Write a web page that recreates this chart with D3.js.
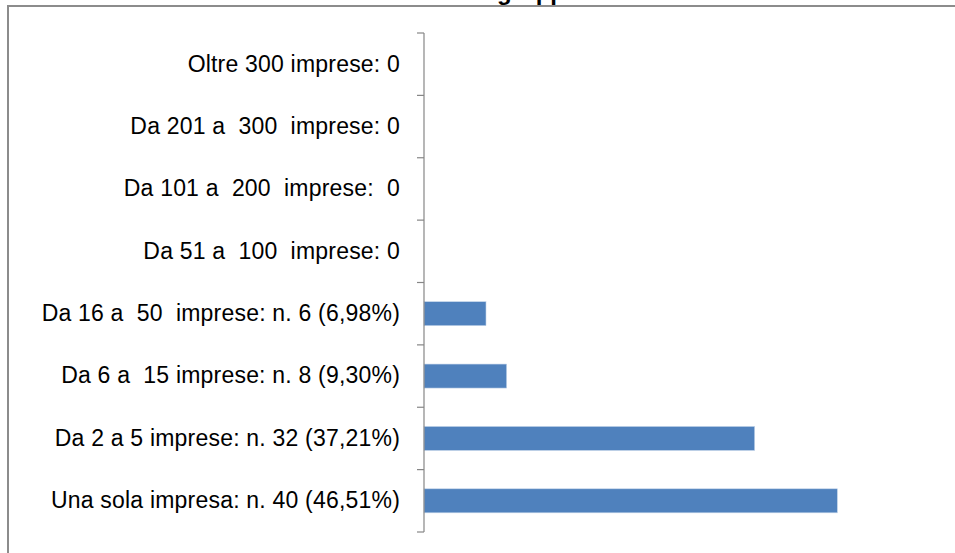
<!DOCTYPE html>
<html>
<head>
<meta charset="utf-8">
<script src="https://cdn.jsdelivr.net/npm/d3@7"></script>
<style>
  body { margin: 0; background: #fff; }
  svg { display: block; }
  .catLabel text { font-family: "Liberation Sans", Arial, sans-serif; font-size: 23px; fill: #000; white-space: pre; letter-spacing: 0.2px; }
</style>
</head>
<body>
<div id="chart"></div>
<script>
// categories, bottom to top as in the original workbook
var categories = [
  "Una sola impresa: n. 40 (46,51%)",
  "Da 2 a 5 imprese: n. 32 (37,21%)",
  "Da 6 a  15 imprese: n. 8 (9,30%)",
  "Da 16 a  50  imprese: n. 6 (6,98%)",
  "Da 51 a  100  imprese: 0",
  "Da 101 a  200  imprese:  0",
  "Da 201 a  300  imprese: 0",
  "Oltre 300 imprese: 0"
];
var values = [40, 32, 8, 6, 0, 0, 0, 0];
var titleText = "gruppi";

(function () {
  var W = 955, H = 553;
  var plotTop = 33, plotBottom = 532, axisX = 424;

  var svg = d3.select("#chart").append("svg")
    .attr("width", W).attr("height", H);

  // chart area frame (runs past right/bottom edges)
  svg.append("rect")
    .attr("x", 8).attr("y", 6)
    .attr("width", W + 20).attr("height", H + 20)
    .attr("fill", "#fff")
    .attr("stroke", "#8c8c8c")
    .attr("stroke-width", 2);

  // title, mostly cut off above the view
  svg.append("text")
    .attr("x", 497).attr("y", 0)
    .attr("font-family", "Liberation Sans, Arial, sans-serif")
    .attr("font-weight", "bold")
    .attr("font-size", 24)
    .text(titleText);

  var data = categories.map(function (c, i) { return { label: c, value: values[i] }; });

  var y = d3.scaleBand()
    .domain(categories.slice().reverse())
    .range([plotTop, plotBottom])
    .padding(0);

  var x = d3.scaleLinear().domain([0, 50]).range([axisX, 940.7]);

  var barH = y.bandwidth() * 0.385;

  svg.append("g")
    .selectAll("rect")
    .data(data.filter(function (d) { return d.value > 0; }))
    .enter().append("rect")
    .attr("x", x(0))
    .attr("y", function (d) { return y(d.label) + (y.bandwidth() - barH) / 2; })
    .attr("width", function (d) { return x(d.value) - x(0); })
    .attr("height", barH)
    .attr("fill", "#4f81bd")
    .attr("stroke", "#c5d5ea")
    .attr("stroke-width", 0.6);

  // category axis with labels
  var axisG = svg.append("g")
    .attr("class", "catLabel")
    .attr("transform", "translate(" + axisX + ",0)")
    .call(d3.axisLeft(y).tickSize(0).tickPadding(24));
  axisG.select(".domain").remove();
  axisG.selectAll("text").attr("font-family", null).attr("font-size", null)
    .attr("xml:space", "preserve");

  // axis line and ticks on band boundaries
  var bounds = y.domain().map(function (d) { return y(d); }).concat([plotBottom]);
  svg.append("line")
    .attr("x1", axisX).attr("x2", axisX)
    .attr("y1", plotTop).attr("y2", plotBottom)
    .attr("stroke", "#868686").attr("stroke-width", 1.2);
  svg.append("g").selectAll("line")
    .data(bounds)
    .enter().append("line")
    .attr("x1", axisX - 7).attr("x2", axisX)
    .attr("y1", function (d) { return d; }).attr("y2", function (d) { return d; })
    .attr("stroke", "#868686").attr("stroke-width", 1.2);
})();
</script>
</body>
</html>
